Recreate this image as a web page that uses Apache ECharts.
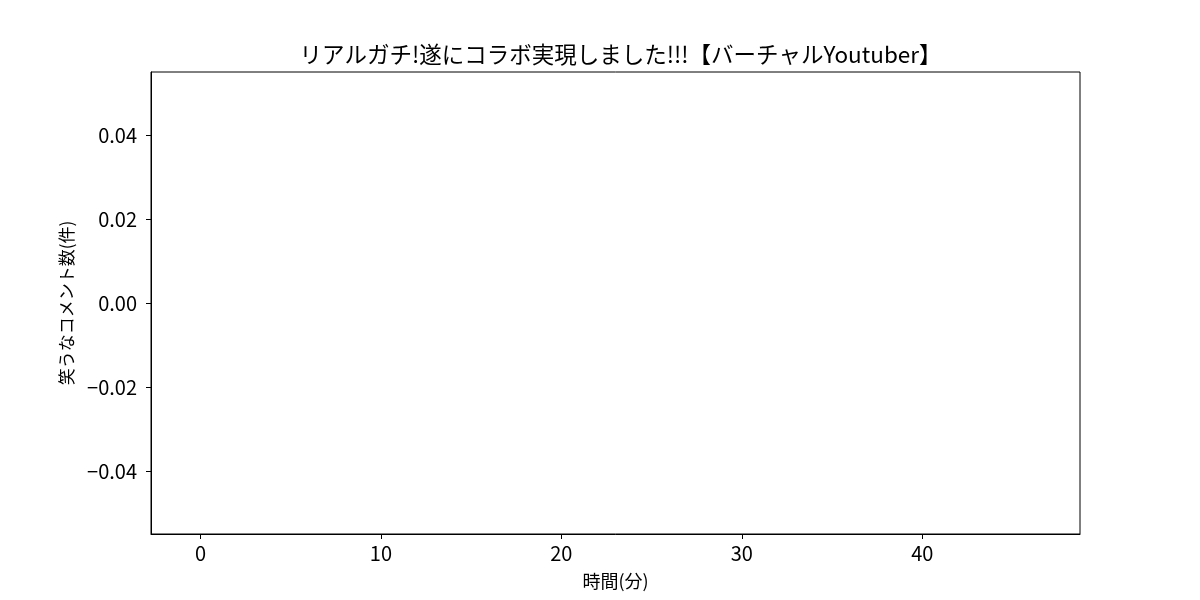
<!DOCTYPE html>
<html>
<head>
<meta charset="utf-8">
<script src="https://cdn.jsdelivr.net/npm/echarts@6/dist/echarts.min.js"></script>
<style>html,body{margin:0;padding:0;background:#fff}#c{width:1200px;height:600px}</style>
</head>
<body>
<div id="c"></div>
<script>
var titleText = 'リアルガチ!遂にコラボ実現しました!!!【バーチャルYoutuber】';
var xLabel = '時間(分)';
var yLabel = '笑うなコメント数(件)';
var minutes = [0,1,2,3,4,5,6,7,8,9,10,11,12,13,14,15,16,17,18,19,20,21,22,23,24,25,26,27,28,29,30,31,32,33,34,35,36,37,38,39,40,41,42,43,44,45,46];
var counts = [0,0,0,0,0,0,0,0,0,0,0,0,0,0,0,0,0,0,0,0,0,0,0,0,0,0,0,0,0,0,0,0,0,0,0,0,0,0,0,0,0,0,0,0,0,0,0];
var xTicks = [0,10,20,30,40];
var yTicks = [-0.04,-0.02,0,0.02,0.04];

var font = '"Noto Sans CJK JP", sans-serif';
var chart = echarts.init(document.getElementById('c'), null, {renderer:'canvas'});
chart.setOption({
  animation:false,
  backgroundColor:'#fff',
  title:{text:titleText,left:615.5,textAlign:'center',top:38,textStyle:{fontFamily:font,fontSize:22.5,fontWeight:'normal',color:'#000'}},
  grid:{left:151,right:120,top:72,bottom:66,show:true,borderColor:'#000',borderWidth:1,backgroundColor:'transparent'},
  xAxis:{type:'value',min:-2.74,max:48.74,
    name:xLabel,nameLocation:'middle',nameGap:38,nameTextStyle:{fontFamily:font,fontSize:18,color:'#000'},
    axisLine:{show:true,onZero:false,lineStyle:{color:'#000',width:1}},
    axisTick:{show:true,customValues:xTicks,length:5,lineStyle:{color:'#000'}},
    axisLabel:{customValues:xTicks,fontFamily:font,fontSize:20,color:'#000',margin:9},
    splitLine:{show:false}},
  yAxis:{type:'value',min:-0.055,max:0.055,
    name:yLabel,nameLocation:'middle',nameGap:76,nameTextStyle:{fontFamily:font,fontSize:17,color:'#000'},
    axisLine:{show:true,onZero:false,lineStyle:{color:'#000',width:1}},
    axisTick:{show:true,customValues:yTicks,length:5,lineStyle:{color:'#000'}},
    axisLabel:{customValues:yTicks,fontFamily:font,fontSize:20,color:'#000',margin:14,
      formatter:function(v){var s=Math.abs(v).toFixed(2);return (v< -1e-9?'\u2212':'')+s;}},
    splitLine:{show:false}},
  series:[{type:'bar',barWidth:'1.5%',itemStyle:{color:'#1f77b4'},
    data:minutes.map(function(m,i){return [m,counts[i]];})}]
});
</script>
</body>
</html>
